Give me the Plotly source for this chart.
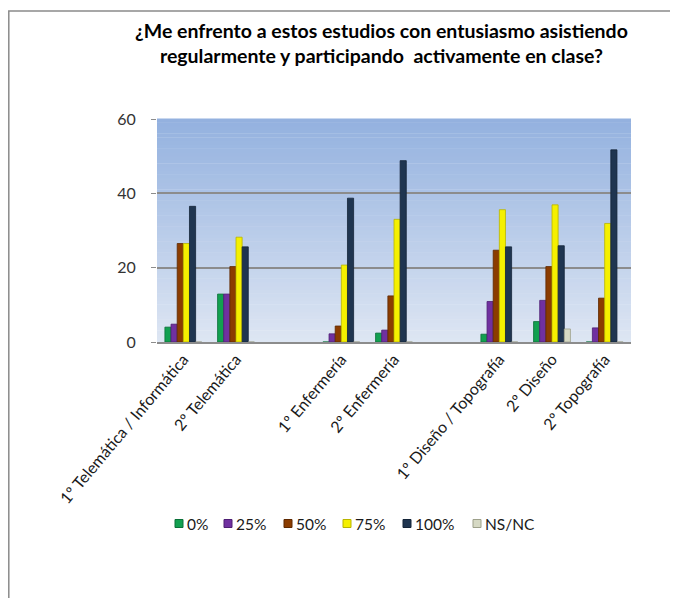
import plotly.graph_objects as go

categories = ["1º Telemática / Informática", "2º Telemática", " ",
              "1º Enfermería", "2º Enfermería", "  ",
              "1º Diseño / Topografía", "2º Diseño", "2º Topografía"]
series_names = ["0%", "25%", "50%", "75%", "100%", "NS/NC"]
v0 = [4.0, 12.9, None, 0, 2.4, None, 2.1, 5.5, 0]
v25 = [4.8, 12.9, None, 2.2, 3.2, None, 10.9, 11.2, 3.8]
v50 = [26.5, 20.3, None, 4.3, 12.4, None, 24.7, 20.3, 11.8]
v75 = [26.5, 28.2, None, 20.7, 33.0, None, 35.6, 36.9, 31.9]
v100 = [36.5, 25.6, None, 38.7, 48.8, None, 25.6, 25.9, 51.7]
vns = [0, 0, None, 0, 0, None, 0, 3.5, 0]
series_values = [v0, v25, v50, v75, v100, vns]
colors = ["#12A050", "#7030A0", "#8B3C00", "#F5F000", "#1F3550", "#D6D9C4"]
outlines = ["#0B7038", "#4E1F73", "#5E2800", "#B8B400", "#142438", "#9DA08A"]
y_ticks = [0, 20, 40, 60]
title_text = "¿Me enfrento a estos estudios con entusiasmo asistiendo<br>regularmente y participando  activamente en clase?"

OFF = 8  # page body margin
W, H = 678, 598
L, R, T, B = 157 - OFF, 678 - (631 - OFF), 119 - OFF, 598 - (342 - OFF)
pw, ph = W - L - R, H - T - B

def px_x(p):  # page pixel -> paper
    return (p - OFF - L) / pw

def px_y(p):
    return (H - B - (p - OFF)) / ph

fig = go.Figure()
for name, vals, c, oc in zip(series_names, series_values, colors, outlines):
    fig.add_trace(go.Bar(x=categories, y=vals, name=name, showlegend=False,
                         marker=dict(color=c, line=dict(color=oc, width=0.8))))

# gradient background bands for plot area
shapes = []
N = 60
top = (0x93, 0xB1, 0xDF)
bot = (0xDE, 0xE6, 0xF3)
for i in range(N):
    t = (i + 0.5) / N
    col = tuple(int(round(bot[k] + (top[k] - bot[k]) * t)) for k in range(3))
    shapes.append(dict(type="rect", xref="paper", yref="paper",
                       x0=0, x1=1, y0=i / N, y1=(i + 1) / N + 0.002,
                       fillcolor="rgb(%d,%d,%d)" % col, line=dict(width=0),
                       layer="below"))
# outer chart border
shapes.append(dict(type="rect", xref="paper", yref="paper",
                   x0=px_x(8.8), x1=px_x(700), y0=px_y(640), y1=px_y(11),
                   line=dict(color="#8A8A8A", width=1.5), fillcolor="rgba(0,0,0,0)",
                   layer="above"))

annotations = [dict(text="<b>" + title_text + "</b>", xref="paper", yref="paper",
                    x=px_x(381), y=px_y(43), xanchor="center", yanchor="middle",
                    showarrow=False, font=dict(size=19.5, color="black"))]

# compact legend (Excel style): small square + label
legend_x = [175, 224, 284, 343, 403, 473]  # page px of each legend square
legend_y = 523.5
for name, c, oc, lx in zip(series_names, colors, outlines, legend_x):
    shapes.append(dict(type="rect", xref="paper", yref="paper",
                       x0=px_x(lx), x1=px_x(lx + 8), y0=px_y(legend_y + 4), y1=px_y(legend_y - 4),
                       fillcolor=c, line=dict(color=oc, width=1), layer="above"))
    annotations.append(dict(text=name, xref="paper", yref="paper",
                            x=px_x(lx + 10), y=px_y(legend_y), xanchor="left", yanchor="middle",
                            showarrow=False, font=dict(size=15.5, color="#1a1a1a")))

fig.update_layout(
    width=W, height=H,
    margin=dict(l=L, r=R, t=T, b=B, pad=0),
    paper_bgcolor="white",
    plot_bgcolor="rgba(0,0,0,0)",
    barmode="group", bargap=0.3, bargroupgap=0,
    font=dict(family="Lato, Liberation Sans, sans-serif", color="#1a1a1a"),
    shapes=shapes,
    annotations=annotations,
    showlegend=False,
    xaxis=dict(categoryorder="array", categoryarray=categories,
               tickangle=-50, tickfont=dict(size=16, color="#1a1a1a"),
               showline=True, linecolor="#8C8C8C", linewidth=1.5,
               ticks="", showgrid=False),
    yaxis=dict(range=[0, 60], tickvals=y_ticks, tickfont=dict(size=16, color="#333333"),
               showgrid=True, gridcolor="#8C8C8C", gridwidth=1.5,
               ticks="outside", ticklen=5, tickcolor="#8C8C8C",
               showline=False, zeroline=False, ticklabelstandoff=12),
)

fig.write_html("out.html")
